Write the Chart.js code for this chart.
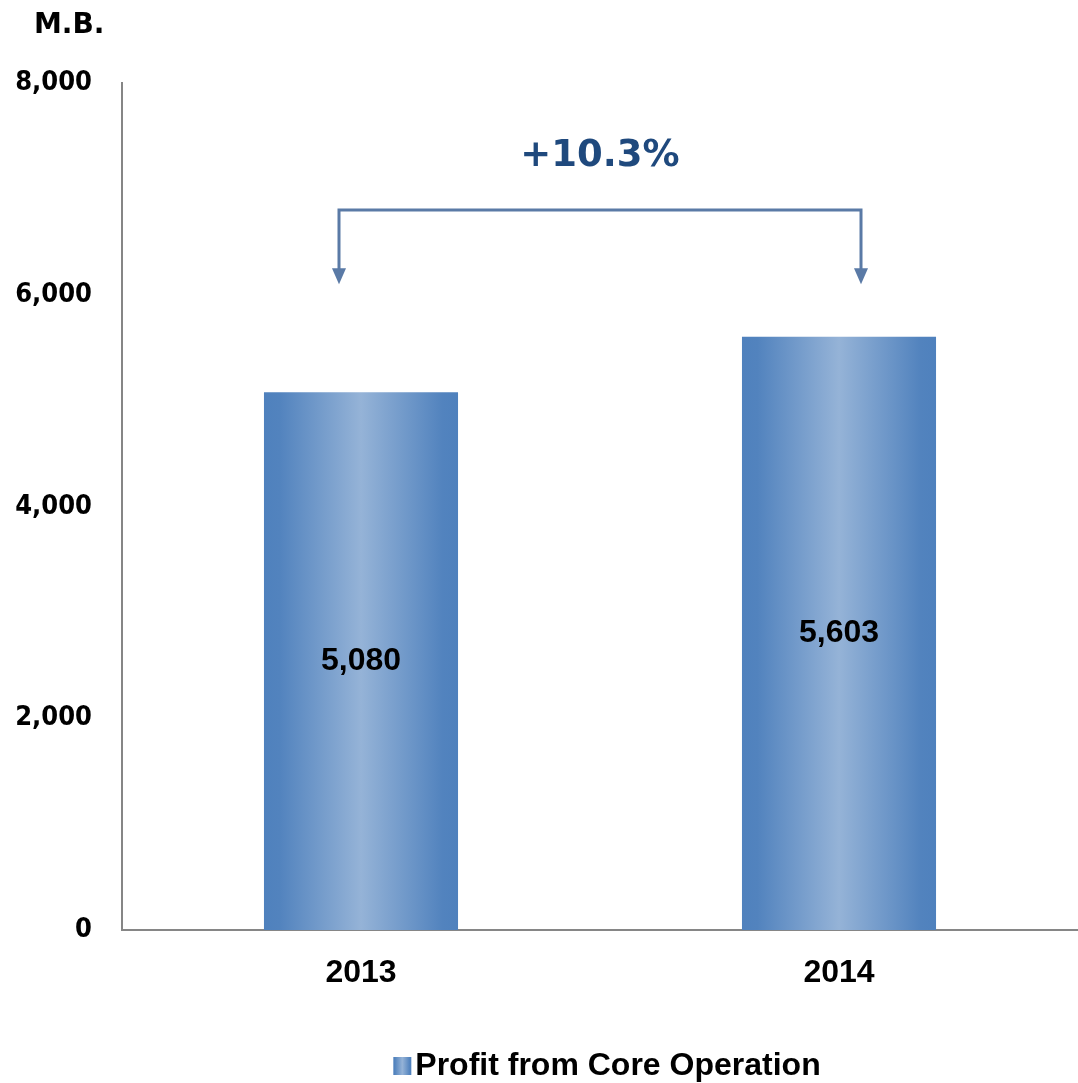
<!DOCTYPE html>
<html>
<head>
<meta charset="utf-8">
<script src="https://cdn.jsdelivr.net/npm/chart.js@4.4.1/dist/chart.umd.min.js"></script>
<style>
  html, body { margin: 0; padding: 0; background: #fff; }
  #wrap { width: 1078px; height: 1083px; position: relative; }
</style>
</head>
<body>
<div id="wrap"><canvas id="chart-core-profit"></canvas></div>
<script>
// data
const years = ['2013', '2014'];
const coreProfit = [5080, 5603];
const yTicks = [0, 2000, 4000, 6000, 8000];
const unitLabel = 'M.B.';
const growthLabel = '+10.3%';
const seriesName = 'Profit from Core Operation';

const axisGrey = '#868686';
const arrowBlue = '#5a7aa6';
const BAR_PCT = 0.406;

function barGradient(ctx, left, right) {
  const g = ctx.createLinearGradient(left, 0, right, 0);
  g.addColorStop(0, '#4f81bd');
  g.addColorStop(0.08, '#5283be');
  g.addColorStop(0.5, '#95b3d7');
  g.addColorStop(0.92, '#5283be');
  g.addColorStop(1, '#4f81bd');
  return g;
}

// per bar gradient, worked out from the x scale
function barFill(c) {
  const chart = c.chart;
  const xs = chart.scales.x;
  if (c.type !== 'data' || !chart.chartArea || !xs) return '#7a9ccb';
  const cx = xs.getPixelForValue(c.dataIndex);
  const half = (chart.chartArea.width / years.length) * BAR_PCT / 2;
  if (!isFinite(cx) || !isFinite(half)) return '#7a9ccb';
  return barGradient(chart.ctx, cx - half, cx + half);
}

// text, bracket arrows and legend drawn on top
const extras = {
  id: 'extras',
  afterDatasetsDraw(chart) {
    const ctx = chart.ctx;
    const meta = chart.getDatasetMeta(0);
    const y = chart.scales.y;
    const area = chart.chartArea;

    ctx.save();
    // value labels in middle of bars
    ctx.fillStyle = '#000';
    ctx.font = 'bold 32px "Liberation Sans", Arial, sans-serif';
    ctx.textAlign = 'center';
    ctx.textBaseline = 'middle';
    meta.data.forEach((bar, i) => {
      const mid = (bar.y + bar.base) / 2;
      ctx.fillText(coreProfit[i].toLocaleString('en-US'), bar.x, mid);
    });

    // unit label
    ctx.font = 'bold 28px "DejaVu Sans", Verdana, sans-serif';
    ctx.textAlign = 'left';
    ctx.fillText(unitLabel, 34, 26);

    // bracket
    const x0 = meta.data[0].x - 22;
    const x1 = meta.data[1].x + 22;
    const yTop = y.getPixelForValue(6800);
    const yTip = y.getPixelForValue(6100);
    ctx.strokeStyle = arrowBlue;
    ctx.fillStyle = arrowBlue;
    ctx.lineWidth = 3;
    ctx.beginPath();
    ctx.moveTo(x0, yTip - 14);
    ctx.lineTo(x0, yTop);
    ctx.lineTo(x1, yTop);
    ctx.lineTo(x1, yTip - 14);
    ctx.stroke();
    [x0, x1].forEach(x => {
      ctx.beginPath();
      ctx.moveTo(x - 7, yTip - 16);
      ctx.lineTo(x + 7, yTip - 16);
      ctx.lineTo(x, yTip);
      ctx.closePath();
      ctx.fill();
    });

    // growth label
    ctx.fillStyle = '#1f497d';
    ctx.font = 'bold 37px "DejaVu Sans", Verdana, sans-serif';
    ctx.textAlign = 'center';
    ctx.fillText(growthLabel, (meta.data[0].x + meta.data[1].x) / 2, y.getPixelForValue(7310));

    // legend
    ctx.font = 'bold 32px "Liberation Sans", Arial, sans-serif';
    const tw = ctx.measureText(seriesName).width;
    const total = 18 + 4 + tw;
    const lx = (area.left + area.right) / 2 + 7 - total / 2;
    const ly = 1066;
    ctx.fillStyle = barGradient(ctx, lx, lx + 18);
    ctx.fillRect(lx, ly - 9, 18, 18);
    ctx.fillStyle = '#000';
    ctx.textAlign = 'left';
    ctx.fillText(seriesName, lx + 22, ly);
    ctx.restore();
  }
};

const canvas = document.getElementById('chart-core-profit');

new Chart(canvas, {
  type: 'bar',
  data: {
    labels: years,
    datasets: [{
      label: seriesName,
      data: coreProfit,
      backgroundColor: barFill,
      borderWidth: 0,
      barPercentage: BAR_PCT,
      categoryPercentage: 1
    }]
  },
  options: {
    responsive: true,
    maintainAspectRatio: false,
    animation: false,
    layout: { padding: { top: 83, right: 0, bottom: 0, left: 0 } },
    plugins: {
      tooltip: { enabled: false },
      legend: { display: false }
    },
    scales: {
      x: {
        grid: { display: false, drawTicks: false },
        border: { color: axisGrey, width: 2 },
        ticks: {
          color: '#000',
          padding: 24,
          font: { family: '"Liberation Sans", Arial, sans-serif', size: 32, weight: 'bold' }
        },
        afterFit(scale) { scale.height = 153; }
      },
      y: {
        min: 0,
        max: 8000,
        afterBuildTicks(scale) { scale.ticks = yTicks.map(v => ({ value: v })); },
        grid: { display: false, drawTicks: false },
        border: { color: axisGrey, width: 2 },
        ticks: {
          color: '#000',
          padding: 30,
          font: { family: '"DejaVu Sans Condensed", "DejaVu Sans", Verdana, sans-serif', size: 27, weight: 'bold' },
          callback: (v) => v.toLocaleString('en-US')
        },
        afterFit(scale) { scale.width = 122; }
      }
    }
  },
  plugins: [extras]
});
</script>
</body>
</html>
